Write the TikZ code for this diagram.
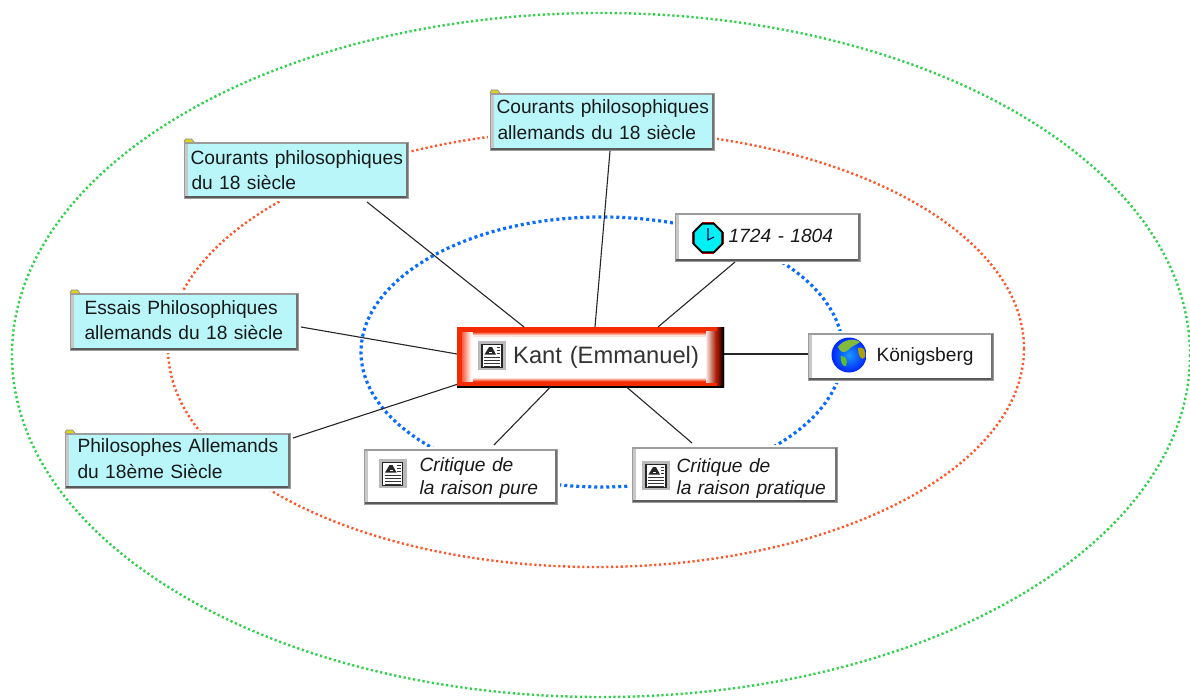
\documentclass[tikz,border=0pt]{standalone}
\usepackage{fontspec}
\setmainfont{Liberation Sans}
\usetikzlibrary{calc,shapes.geometric,shadings}
\definecolor{boxcyan}{HTML}{B8F6FA}
\definecolor{edgedark}{HTML}{5A5A5A}
\definecolor{edgelight}{HTML}{C8C8C8}
\definecolor{kred}{HTML}{F42A00}
\definecolor{kdark}{HTML}{A81800}
\definecolor{ringgreen}{HTML}{2FD04A}
\definecolor{ringred}{HTML}{FF5528}
\definecolor{ringblue}{HTML}{0A6CFF}
\definecolor{clockc}{HTML}{00F0F4}
\tikzset{
 x=1pt,y=-1pt,
 ring/.style={dash pattern=on 2.2pt off 2.6pt},
 lk/.style={line width=1.1pt,black!85},
 halo/.style={preaction={draw=white,line width=5pt}},
 box3d/.style={draw=edgedark!60!white,line width=1pt,rectangle,anchor=north west,align=left,inner ysep=0pt,inner xsep=1pt,
   path picture={
     \draw[edgelight,line width=7pt] (path picture bounding box.south west)--(path picture bounding box.north west);
     \draw[edgedark!60!white,line width=3pt] (path picture bounding box.north west)--(path picture bounding box.north east);
     \draw[edgedark,line width=5pt] (path picture bounding box.south west)--(path picture bounding box.south east);
     \draw[edgedark!85!white,line width=6pt] (path picture bounding box.south east)--(path picture bounding box.north east);
   }},
 topicbox/.style={box3d,fill=boxcyan},
 whitebox/.style={box3d,fill=white},
 bsize/.style 2 args={minimum width=#1pt,minimum height=#2pt,text width=#1pt-2pt},
 txt/.style={font=\fontsize{19.2}{25.2}\selectfont,text=black!90},
 itxt/.style={font=\fontsize{19.2}{#1}\selectfont\itshape,text=black!90},
 kantbox/.style={rectangle,anchor=north west,fill=white,inner xsep=1pt,inner ysep=0pt,align=left,
  font=\fontsize{23.7}{26}\selectfont,text=black!80,
  path picture={
   \coordinate (sw) at (path picture bounding box.south west);
   \coordinate (ne) at (path picture bounding box.north east);
   % top and bottom fades
   \foreach \i [evaluate=\i as \p using 90-25*\i] in {0,1,2,3}
     {\fill[kred!\p!white] ($(sw|-ne)+(0,5+\i)$) rectangle ($(ne)+(0,6.3+\i)$);
      \fill[kred!\p!white] ($(sw)+(0,-5-\i)$) rectangle ($(ne|-sw)+(0,-6.3-\i)$);}
   \fill[kred] (sw|-ne) rectangle ($(ne)+(0,5.2)$);
   \fill[kred] ($(sw)+(0,-5.2)$) rectangle (ne|-sw);
   % left fade
   \fill[kred] (sw) rectangle ($(sw|-ne)+(5,0)$);
   \foreach \i [evaluate=\i as \p using 75-8*\i] in {0,...,9}
     {\fill[kred!\p!white] ($(sw)+(5+\i,-5)$) rectangle ($(sw|-ne)+(6.3+\i,5)$);}
   % right fade
   \foreach \i [evaluate=\i as \p using 9*\i] in {1,...,11}
     {\fill[kdark!\p!white] ($(ne|-sw)+(-19+\i,-4)$) rectangle ($(ne)+(-17.7+\i,4)$);}
   \foreach \i [evaluate=\i as \p using 100-16*\i] in {0,...,6}
     {\fill[kdark!\p!black] ($(ne|-sw)+(-7+\i,0)$) rectangle ($(ne)+(-5.7+\i,0)$);}
   \draw[black,line width=1.6pt] (sw)--(ne|-sw)--(ne);
  }},
 globeball/.style={circle,minimum size=35pt,inner sep=0pt,shading=radial,inner color=blue!45!cyan!90!white,outer color=blue!85!cyan},
 clockface/.style={regular polygon,regular polygon sides=8,draw=black,line width=1.8pt,fill=clockc,minimum size=31pt,inner sep=0pt},
}
\newcommand{\hs}[1]{\hspace*{#1pt}}
\newcommand{\lowpad}[1]{\rule[-#1pt]{0pt}{1pt}}
\newcommand{\toppad}[1]{\rule{0pt}{#1pt}}
\newcommand{\docicon}[2]{%
 \begin{scope}[shift={(#1,#2)}]
  \fill[black!27] (-14,-15) rectangle (14,14);
  \draw[line width=1.5pt,black!85,fill=white] (-10,-11.5) rectangle (10,11.5);
  \fill[black!85] (-7.5,-1.5) -- (-3,-9) -- (0,-9) -- (4,-1.5) -- cycle;
  \fill[white] (-2.8,-3.6) rectangle (0.3,-2.6);
  \foreach \yy in {1.5,4.5,7.5,10}{\draw[line width=.9pt,black!80] (-8,\yy)--(8,\yy);}
  \foreach \yy in {-8.5,-5.5,-2.5}{\draw[line width=.8pt,black!80] (4.5,\yy)--(8,\yy);}
 \end{scope}}
\newcommand{\foldertab}[2]{%
 \draw[edgedark!70!white,fill=yellow!85!black,line width=.7pt] (#1,#2) -- ++(1.5,-3) -- ++(6,0) -- ++(2.5,3);}
\begin{document}
\begin{tikzpicture}
\useasboundingbox (0,0) rectangle (1190,698);
\fill[white] (0,0) rectangle (1190,698);
% rings
\draw[ring,line width=2.4pt,ringgreen] (601,355) ellipse [x radius=589,y radius=342];
\draw[ring,line width=2.4pt,ringred] (596,348.5) ellipse [x radius=428,y radius=218.5];
\draw[dash pattern=on 3pt off 3pt,line width=3.2pt,ringblue] (602,352) ellipse [x radius=241,y radius=135];
% nodes
\node[topicbox,halo,txt,bsize={224}{56}] (c18) at (184,142) {\hs{5}Courants philosophiques\\\hs{6}du 18 siècle};
\node[topicbox,halo,txt,bsize={224}{57}] (ca18) at (490,93) {\hs{5}Courants philosophiques\\\hs{6}allemands du 18 siècle\lowpad{5}};
\node[topicbox,halo,txt,bsize={228}{57}] (essais) at (70,293) {\hs{13}Essais Philosophiques\\\hs{13}allemands du 18 siècle\lowpad{4}};
\node[topicbox,halo,txt,bsize={225}{55}] (phil) at (65,433) {\hs{11}Philosophes Allemands\\\hs{11}du 18ème Siècle\lowpad{5}};
\node[whitebox,halo,itxt=22,bsize={185}{48}] (dates) at (675,213) {\hs{52}1724 - 1804\lowpad{4}};
\node[whitebox,halo,font=\fontsize{19.2}{22}\selectfont,text=black!90,bsize={185}{47}] (kbg) at (808,333) {\hs{67}Königsberg};
\node[whitebox,halo,itxt=23,bsize={193}{55}] (pure) at (364,449) {\toppad{16}\hs{54}Critique de\\\hs{54}la raison pure};
\node[whitebox,halo,itxt=22,bsize={205}{55}] (prat) at (632,447) {\toppad{20}\hs{43}Critique de\\\hs{43}la raison pratique};
\node[kantbox,minimum width=267pt,minimum height=60pt,text width=265pt] (kant) at (457,327) {\hs{55}Kant (Emmanuel)};
% connectors
\draw[lk] ([xshift=67pt]kant.north west) -- ([xshift=183pt,yshift=-3pt]c18.south west);
\draw[lk] ([xshift=138pt]kant.north west) -- ([xshift=120pt]ca18.south west);
\draw[lk] ([xshift=201pt]kant.north west) -- ([xshift=60pt]dates.south west);
\draw[lk] ([yshift=-27pt]kant.north east) -- ([yshift=-21pt]kbg.north west);
\draw[lk] ([xshift=170pt]kant.south west) -- ([xshift=60pt,yshift=4pt]prat.north west);
\draw[lk] ([xshift=93pt]kant.south west) -- ([xshift=130pt,yshift=4pt]pure.north west);
\draw[lk] ([yshift=-27pt]kant.north west) -- ([xshift=2pt,yshift=-34pt]essais.north east);
\draw[lk] ([yshift=3pt]kant.south west) -- ([xshift=2pt,yshift=-5pt]phil.north east);
% icons
\docicon{492}{356}
\docicon{392.5}{474}
\docicon{656}{476}
\foldertab{184}{142}
\foldertab{490}{93}
\foldertab{70}{293}
\foldertab{65}{433}
% clock
\node[clockface] (clock) at (708,238) {};
\draw[red!75!black,line width=1.2pt] (clock.corner 1)--(clock.corner 2) (clock.corner 3)--(clock.corner 4) (clock.corner 5)--(clock.corner 6) (clock.corner 7)--(clock.corner 8);
\draw[black!70!blue,line width=1.1pt] (708,228)--(708,240)--(714,237);
% globe
\node[globeball] (globe) at (849,355) {};
\fill[green!40!brown!90!white] (838,347) .. controls (843,339) and (855,338) .. (860,342) .. controls (855,346) and (851,346) .. (848,350) .. controls (844,354) and (840,352) .. (838,347);
\fill[green!50!brown] (841,356) .. controls (846,356) and (848,360) .. (846,366) .. controls (843,367) and (840,362) .. (841,356);
\fill[olive!75!yellow] (858,348) .. controls (863,346) and (866,350) .. (865,357) .. controls (862,362) and (858,356) .. (858,348);
\end{tikzpicture}
\end{document}
